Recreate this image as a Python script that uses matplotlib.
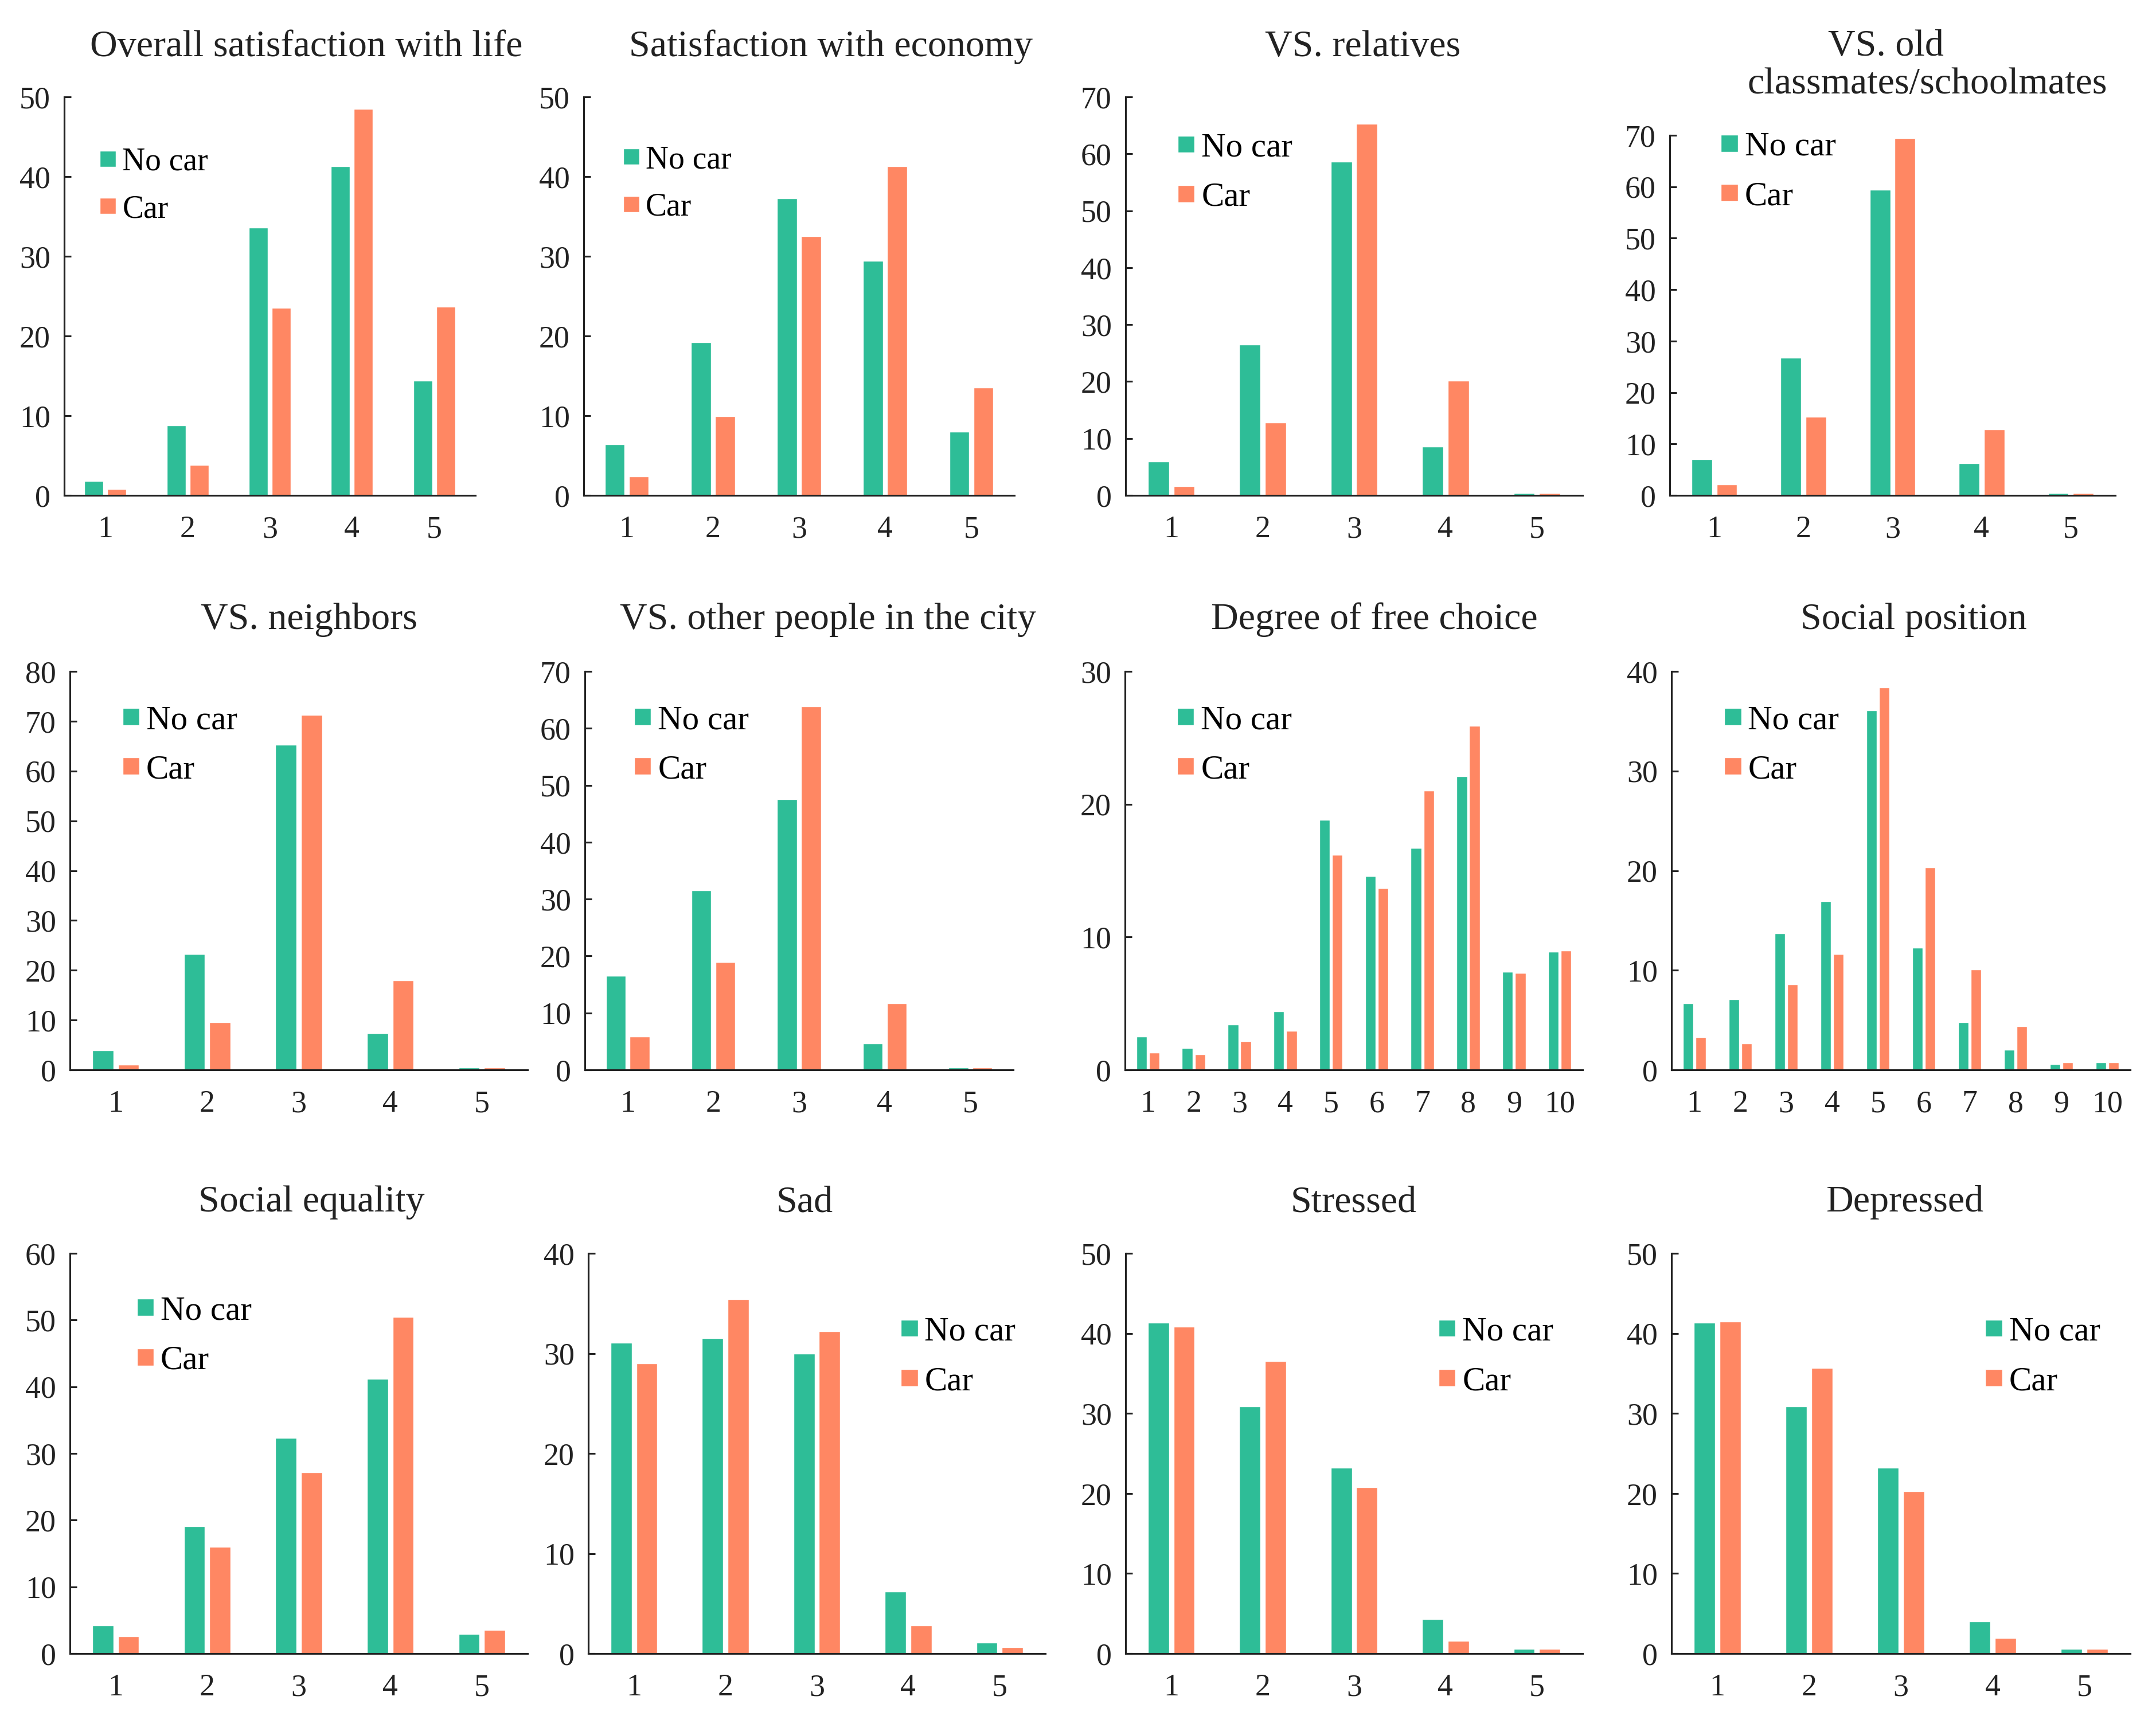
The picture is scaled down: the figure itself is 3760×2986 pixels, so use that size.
import matplotlib
matplotlib.use("Agg")
import matplotlib.pyplot as plt

# 字体：参考图是 Palatino 类衬线字体，这里用 Liberation Serif 代替
plt.rcParams["font.family"] = ["Liberation Serif", "DejaVu Serif"]

# ---------------- 数据 ----------------
cats5 = [1, 2, 3, 4, 5]
cats10 = [1, 2, 3, 4, 5, 6, 7, 8, 9, 10]

life_no_car = [1.8, 8.8, 33.6, 41.3, 14.4]
life_car = [0.8, 3.8, 23.5, 48.5, 23.7]

economy_no_car = [6.4, 19.2, 37.3, 29.4, 8.0]
economy_car = [2.4, 9.9, 32.5, 41.3, 13.5]

relatives_no_car = [5.9, 26.5, 58.6, 8.6, 0.45]
relatives_car = [1.6, 12.8, 65.3, 20.1, 0.45]

classmates_no_car = [7.0, 26.8, 59.4, 6.2, 0.5]
classmates_car = [2.1, 15.3, 69.4, 12.8, 0.5]

neighbors_no_car = [3.9, 23.2, 65.3, 7.4, 0.5]
neighbors_car = [1.0, 9.6, 71.3, 18.0, 0.5]

city_no_car = [16.5, 31.5, 47.5, 4.6, 0.45]
city_car = [5.8, 18.9, 63.9, 11.7, 0.45]

choice_no_car = [2.5, 1.65, 3.4, 4.4, 18.8, 14.6, 16.7, 22.1, 7.4, 8.9]
choice_car = [1.3, 1.15, 2.15, 2.95, 16.2, 13.7, 21.0, 25.9, 7.3, 9.0]

position_no_car = [6.7, 7.1, 13.7, 16.9, 36.1, 12.25, 4.8, 2.0, 0.55, 0.75]
position_car = [3.3, 2.65, 8.6, 11.6, 38.4, 20.3, 10.1, 4.35, 0.75, 0.75]

equality_no_car = [4.2, 19.1, 32.3, 41.2, 2.9]
equality_car = [2.55, 16.0, 27.2, 50.5, 3.5]

sad_no_car = [31.05, 31.5, 30.0, 6.2, 1.1]
sad_car = [29.0, 35.4, 32.2, 2.8, 0.65]

stressed_no_car = [41.3, 30.9, 23.2, 4.3, 0.55]
stressed_car = [40.8, 36.5, 20.8, 1.6, 0.55]

depressed_no_car = [41.3, 30.9, 23.2, 4.0, 0.55]
depressed_car = [41.5, 35.7, 20.3, 1.9, 0.55]

titles = ["Overall satisfaction with life", "Satisfaction with economy", "VS. relatives",
          "VS. old", "VS. neighbors", "VS. other people in the city",
          "Degree of free choice", "Social position", "Social equality", "Sad", "Stressed", "Depressed"]
title4_line2 = "classmates/schoolmates"
y_max = [50, 50, 70, 70, 80, 70, 30, 40, 60, 40, 50, 50]

# ---------------- 版式（像素，原图 3760x2986） ----------------
W, H = 3760, 2986
# 每个子图坐标轴：左、右、上、下
boxes = [(112, 829, 169, 864), (1018, 1769, 169, 864), (1963, 2760, 169, 864), (2912, 3689, 236, 864),
         (122, 920, 1171, 1866), (1020, 1767, 1171, 1866), (1962, 2760, 1171, 1866), (2915, 3715, 1171, 1866),
         (122, 920, 2186, 2884), (1026, 1823, 2186, 2884), (1963, 2760, 2186, 2884), (2915, 3715, 2186, 2884)]
# 标题中心 x 与基线 y
title_pos = [(534, 98), (1449, 98), (2377, 98), (3289, 97), (539, 1097), (1444, 1097), (2397, 1097),
             (3337, 1097), (543, 2113), (1403, 2113), (2361, 2113), (3322, 2113)]
title4_line2_pos = (3361, 163)
# 图例位置（坐标轴比例）
legend_pos = [(0.087, 0.777), (0.092, 0.782), (0.114, 0.809), (0.115, 0.898), (0.115, 0.814), (0.115, 0.814),
              (0.114, 0.814), (0.115, 0.814), (0.146, 0.793), (0.684, 0.741), (0.685, 0.741), (0.684, 0.741)]
legend_size = [16, 16, 17, 17, 17, 17, 17, 17, 17, 17, 17, 17]

GREEN = "#2EBD97"
ORANGE = "#FF8763"
INK = "#222222"


def draw_panel(fig, i, cats, no_car, car):
    l, r, t, b = boxes[i]
    ax = fig.add_axes([l / W, 1 - b / H, (r - l) / W, (b - t) / H])
    x = range(len(cats))
    ax.bar([k + 1 - 0.14 for k in x], no_car, width=0.23, color=GREEN, edgecolor="white",
           linewidth=0.4, label="No car")
    ax.bar([k + 1 + 0.14 for k in x], car, width=0.23, color=ORANGE, edgecolor="white",
           linewidth=0.4, label="Car")
    ax.set_xlim(0.5, len(cats) + 0.5)
    ax.set_ylim(0, y_max[i])
    ax.set_xticks(cats)
    ax.set_xticklabels([str(c) for c in cats])
    ax.set_yticks(range(0, y_max[i] + 1, 10))
    for s in ["top", "right"]:
        ax.spines[s].set_visible(False)
    for s in ["left", "bottom"]:
        ax.spines[s].set_linewidth(0.9)
        ax.spines[s].set_color(INK)
    ax.tick_params(axis="y", direction="in", length=3.5, width=0.9, pad=7, labelsize=15.5, colors=INK)
    ax.tick_params(axis="x", length=0, pad=10, labelsize=15.5, colors=INK)
    fx, fy = legend_pos[i]
    ax.legend(loc="center left", bbox_to_anchor=(fx, fy), frameon=False, fontsize=legend_size[i],
              handlelength=0.5, handleheight=0.4, handletextpad=0.2, labelspacing=0.55,
              borderpad=0, borderaxespad=0)
    cx, cy = title_pos[i]
    fig.text(cx / W, 1 - cy / H, titles[i], ha="center", va="baseline", fontsize=19, color=INK)
    return ax


fig = plt.figure(figsize=(W / 250, H / 250), dpi=250)

panels = [(cats5, life_no_car, life_car), (cats5, economy_no_car, economy_car),
          (cats5, relatives_no_car, relatives_car), (cats5, classmates_no_car, classmates_car),
          (cats5, neighbors_no_car, neighbors_car), (cats5, city_no_car, city_car),
          (cats10, choice_no_car, choice_car), (cats10, position_no_car, position_car),
          (cats5, equality_no_car, equality_car), (cats5, sad_no_car, sad_car),
          (cats5, stressed_no_car, stressed_car), (cats5, depressed_no_car, depressed_car)]

for i, (cats, a, b) in enumerate(panels):
    draw_panel(fig, i, cats, a, b)

# 第四个子图标题的第二行
fig.text(title4_line2_pos[0] / W, 1 - title4_line2_pos[1] / H, title4_line2, ha="center",
         va="baseline", fontsize=19, color=INK)

fig.savefig("out.png", dpi=250)
